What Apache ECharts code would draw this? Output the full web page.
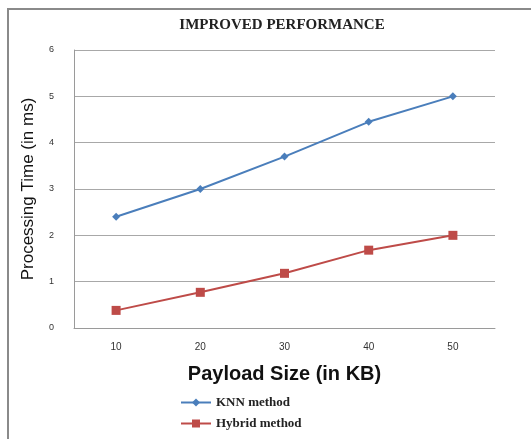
<!DOCTYPE html>
<html>
<head>
    <meta charset="utf-8">
    <title>Improved Performance</title>
    <script src="https://cdn.jsdelivr.net/npm/echarts@6/dist/echarts.min.js"></script>
    <style>
        html, body { margin: 0; padding: 0; background: #fff; }
        #frame { position: absolute; left: 7px; top: 8px; width: 524px; height: 431px;
                 border-left: 2px solid #8a8a8a; border-top: 2px solid #8a8a8a; box-sizing: border-box; }
        #chart { position: absolute; left: 0; top: 0; width: 531px; height: 439px; }
    </style>
</head>
<body>
<div id="frame"></div>
<div id="chart"></div>
<script type="text/javascript">
    // data
    var payloadSizes = ['10', '20', '30', '40', '50'];
    var knnTimes = [2.4, 3.0, 3.7, 4.45, 5.0];
    var hybridTimes = [0.38, 0.77, 1.18, 1.68, 2.0];

    var myChart = echarts.init(document.getElementById('chart'));

    myChart.setOption({
        animation: false,
        title: {
            text: 'IMPROVED PERFORMANCE',
            left: 277,
            top: 13,
            textAlign: 'center',
            textStyle: { fontFamily: 'Liberation Serif', fontSize: 15, fontWeight: 'bold', color: '#222' }
        },
        grid: { left: 74, right: 36, top: 50, bottom: 111 },
        legend: {
            orient: 'vertical',
            left: 175,
            top: 391,
            itemGap: 8,
            itemWidth: 30,
            itemHeight: 10,
            data: ['KNN method', 'Hybrid method'],
            textStyle: { fontFamily: 'Liberation Serif', fontSize: 13, fontWeight: 'bold', color: '#222' }
        },
        xAxis: {
            type: 'category',
            data: payloadSizes,
            name: 'Payload Size (in KB)',
            nameLocation: 'middle',
            nameGap: 36,
            nameTextStyle: { fontFamily: 'Liberation Sans', fontSize: 20, fontWeight: 'bold', color: '#111' },
            axisLine: { lineStyle: { color: '#9a9a9a' } },
            axisTick: { show: false },
            axisLabel: { fontFamily: 'Liberation Sans', fontSize: 10, color: '#333', margin: 14 }
        },
        yAxis: {
            type: 'value',
            min: 0,
            max: 6,
            interval: 1,
            name: 'Processing Time (in ms)',
            nameLocation: 'middle',
            nameGap: 37,
            nameTextStyle: { fontFamily: 'Liberation Sans', fontSize: 17, color: '#111' },
            axisLine: { show: true, lineStyle: { color: '#9a9a9a' } },
            axisTick: { show: false },
            axisLabel: { fontFamily: 'Liberation Sans', fontSize: 9, color: '#333', margin: 20 },
            splitLine: { lineStyle: { color: '#a8a8a8' } }
        },
        series: [
            {
                name: 'KNN method',
                type: 'line',
                data: knnTimes,
                symbol: 'diamond',
                symbolSize: 8,
                lineStyle: { color: '#4a7ebb', width: 2 },
                itemStyle: { color: '#4a7ebb' }
            },
            {
                name: 'Hybrid method',
                type: 'line',
                data: hybridTimes,
                symbol: 'rect',
                symbolSize: 9,
                lineStyle: { color: '#be4b48', width: 2 },
                itemStyle: { color: '#be4b48' }
            }
        ]
    });
</script>
</body>
</html>
